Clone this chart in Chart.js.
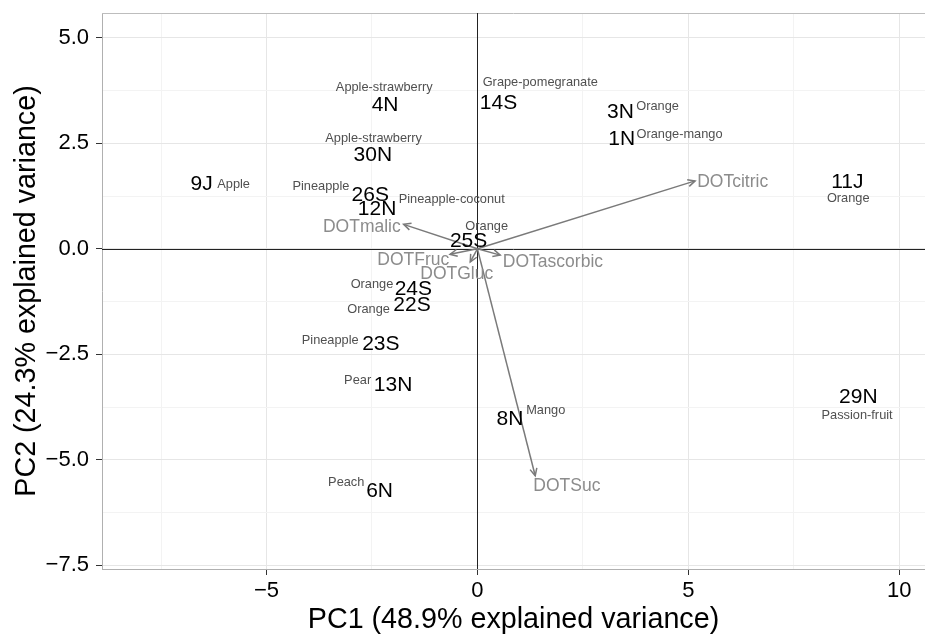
<!DOCTYPE html>
<html><head><meta charset="utf-8">
<script src="https://cdn.jsdelivr.net/npm/chart.js@4.4.0/dist/chart.umd.min.js"></script>
<style>html,body{margin:0;padding:0;background:#fff;}</style>
</head><body>
<canvas id="c" width="925" height="639"></canvas>
<script>
// Sample scores (PC1, PC2)
const sampleIds = ['4N','14S','3N','1N','30N','9J','26S','12N','11J','25S','24S','22S','23S','13N','8N','29N','6N'];
const sampleX   = [-2.19, 0.50, 3.39, 3.42, -2.48, -6.54, -2.54, -2.38, 8.77, -0.21, -1.52, -1.55, -2.29, -2.00, 0.77, 9.03, -2.32];
const sampleY   = [3.40, 3.44, 3.24, 2.61, 2.22, 1.54, 1.27, 0.93, 1.57, 0.17, -0.96, -1.33, -2.26, -3.24, -4.03, -3.52, -5.75];

// Fruit annotations
const fruitNames = ['Apple-strawberry','Grape-pomegranate','Orange','Orange-mango','Apple-strawberry','Apple','Pineapple','Pineapple-coconut','Orange','Orange','Orange','Orange','Pineapple','Pear','Mango','Passion-fruit','Peach'];
const fruitX     = [-2.21, 1.49, 4.27, 4.79, -2.46, -5.78, -3.71, -0.61, 8.79, 0.22, -2.50, -2.58, -3.49, -2.84, 1.62, 9.00, -3.11];
const fruitY     = [3.82, 3.94, 3.37, 2.72, 2.61, 1.53, 1.48, 1.17, 1.19, 0.54, -0.84, -1.43, -2.18, -3.13, -3.84, -3.96, -5.55];

// Variable loadings (arrows) and their label positions
const loadingNames  = ['DOTcitric','DOTmalic','DOTFruc','DOTGluc','DOTascorbic','DOTSuc'];
const loadingX      = [5.16, -1.75, -0.65, -0.17, 0.54, 1.37];
const loadingY      = [1.61, 0.58, -0.13, -0.31, -0.15, -5.38];
const loadingLabelX = [6.05, -2.74, -1.52, -0.49, 1.79, 2.12];
const loadingLabelY = [1.59, 0.51, -0.27, -0.60, -0.32, -5.62];

// Axis ticks
const xMajorTicks  = [-5, 0, 5, 10];
const xMajorLabels = ['\u22125', '0', '5', '10'];
const xMinorTicks  = [-7.5, -2.5, 2.5, 7.5];
const yMajorTicks  = [-7.5, -5, -2.5, 0, 2.5, 5];
const yMajorLabels = ['\u22127.5', '\u22125.0', '\u22122.5', '0.0', '2.5', '5.0'];
const yMinorTicks  = [-6.25, -3.75, -1.25, 1.25, 3.75];

const FONT = "'Liberation Sans', Arial, Helvetica, sans-serif";

const datasets = [];
datasets.push({ label: 'samples', data: sampleX.map((x, i) => ({ x, y: sampleY[i] })), pointRadius: 0, showLine: false });
datasets.push({ label: 'fruits', data: fruitX.map((x, i) => ({ x, y: fruitY[i] })), pointRadius: 0, showLine: false });
datasets.push({ label: 'loadingLabels', data: loadingLabelX.map((x, i) => ({ x, y: loadingLabelY[i] })), pointRadius: 0, showLine: false });
loadingNames.forEach((n, i) => {
  datasets.push({ label: 'arrow', data: [{ x: 0, y: 0 }, { x: loadingX[i], y: loadingY[i] }],
    showLine: true, pointRadius: 0, borderColor: '#7a7a7a', borderWidth: 1.5, fill: false });
});

const overlay = {
  id: 'overlay',
  beforeDatasetsDraw(chart) {
    const { ctx, chartArea: a, scales: { x, y } } = chart;
    ctx.save();
    ctx.strokeStyle = '#bdbdbd'; ctx.lineWidth = 1;
    ctx.beginPath(); ctx.moveTo(a.left, a.top + 0.5); ctx.lineTo(a.right, a.top + 0.5); ctx.stroke();
    ctx.strokeStyle = '#222'; ctx.lineWidth = 1;
    const x0 = Math.round(x.getPixelForValue(0)) + 0.5, y0 = Math.round(y.getPixelForValue(0)) + 0.5;
    ctx.beginPath(); ctx.moveTo(x0, a.top); ctx.lineTo(x0, a.bottom); ctx.stroke();
    ctx.beginPath(); ctx.moveTo(a.left, y0); ctx.lineTo(a.right, y0); ctx.stroke();
    ctx.restore();
  },
  afterDatasetsDraw(chart) {
    const { ctx } = chart;
    ctx.save();
    chart.data.datasets.forEach((ds, di) => {
      if (ds.label !== 'arrow') return;
      const pts = chart.getDatasetMeta(di).data;
      const p0 = pts[0], p1 = pts[1];
      const ang = Math.atan2(p1.y - p0.y, p1.x - p0.x);
      const L = 8, w = Math.PI / 7;
      ctx.strokeStyle = '#7a7a7a'; ctx.lineWidth = 1.5;
      ctx.beginPath();
      ctx.moveTo(p1.x - L * Math.cos(ang - w), p1.y - L * Math.sin(ang - w));
      ctx.lineTo(p1.x, p1.y);
      ctx.lineTo(p1.x - L * Math.cos(ang + w), p1.y - L * Math.sin(ang + w));
      ctx.stroke();
    });
    ctx.textAlign = 'center'; ctx.textBaseline = 'middle';
    ctx.fillStyle = '#8c8c8c'; ctx.font = '17.5px ' + FONT;
    chart.getDatasetMeta(2).data.forEach((el, i) => ctx.fillText(loadingNames[i], el.x, el.y));
    ctx.fillStyle = '#505050'; ctx.font = '12.8px ' + FONT;
    chart.getDatasetMeta(1).data.forEach((el, i) => ctx.fillText(fruitNames[i], el.x, el.y));
    ctx.fillStyle = '#000'; ctx.font = '21px ' + FONT;
    chart.getDatasetMeta(0).data.forEach((el, i) => ctx.fillText(sampleIds[i], el.x, el.y));
    ctx.restore();
  }
};

new Chart(document.getElementById('c'), {
  type: 'scatter',
  data: { datasets },
  options: {
    responsive: false, animation: false,
    layout: { padding: { top: 13, right: 0, left: 0, bottom: 0 } },
    plugins: { legend: { display: false }, tooltip: { enabled: false } },
    scales: {
      x: {
        type: 'linear', min: -8.9, max: 10.61,
        afterBuildTicks: s => { s.ticks = xMinorTicks.concat(xMajorTicks).sort((a, b) => a - b).map(v => ({ value: v })); },
        afterFit: s => { s.height = 70; s.paddingLeft = 0; s.paddingRight = 0; },
        ticks: { autoSkip: false, maxRotation: 0, padding: 3, color: '#000', font: { family: FONT, size: 22 },
          callback: v => { const i = xMajorTicks.indexOf(v); return i >= 0 ? xMajorLabels[i] : ''; } },
        grid: { color: c => xMajorTicks.includes(c.tick && c.tick.value) ? '#e6e6e6' : '#f3f3f3',
          tickColor: c => xMajorTicks.includes(c.tick && c.tick.value) ? '#333' : 'rgba(0,0,0,0)', tickLength: 6, lineWidth: 1 },
        border: { color: '#b0b0b0', width: 1 },
        title: { display: true, text: 'PC1 (48.9% explained variance)', color: '#000', font: { family: FONT, size: 28.7 }, padding: { top: 0, bottom: 2 } }
      },
      y: {
        type: 'linear', min: -7.59, max: 5.59,
        afterBuildTicks: s => { s.ticks = yMinorTicks.concat(yMajorTicks).sort((a, b) => a - b).map(v => ({ value: v })); },
        afterFit: s => { s.width = 102; s.paddingTop = 0; s.paddingBottom = 0; },
        ticks: { autoSkip: false, padding: 7, color: '#000', font: { family: FONT, size: 22 },
          callback: v => { const i = yMajorTicks.indexOf(v); return i >= 0 ? yMajorLabels[i] : ''; } },
        grid: { color: c => yMajorTicks.includes(c.tick && c.tick.value) ? '#e6e6e6' : '#f3f3f3',
          tickColor: c => yMajorTicks.includes(c.tick && c.tick.value) ? '#333' : 'rgba(0,0,0,0)', tickLength: 6, lineWidth: 1 },
        border: { color: '#b0b0b0', width: 1 },
        title: { display: true, text: 'PC2 (24.3% explained variance)', color: '#000', font: { family: FONT, size: 28.7 }, padding: { top: 10, bottom: 0 } }
      }
    }
  },
  plugins: [overlay]
});
</script>
</body></html>
